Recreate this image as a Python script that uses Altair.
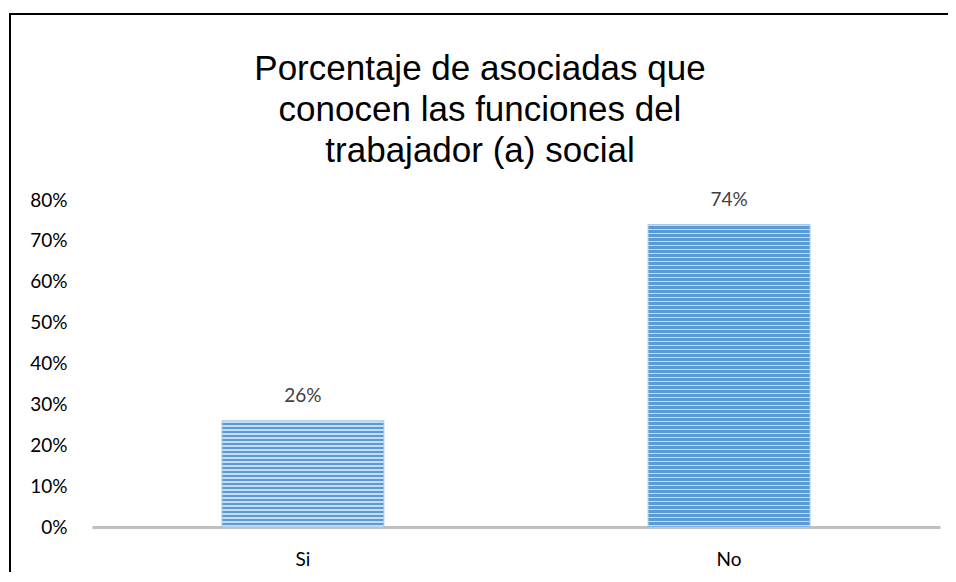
import altair as alt
import pandas as pd

categories = ["Si", "No"]
values = [0.26, 0.74]
label_texts = ["26%", "74%"]
tick_values = [0, 0.1, 0.2, 0.3, 0.4, 0.5, 0.6, 0.7, 0.8]
title_lines = ["Porcentaje de asociadas que", "conocen las funciones del", "trabajador (a) social"]

df = pd.DataFrame({"cat": categories, "val": values, "lbl": label_texts})

W, H = 848, 327
YMAX = 0.8
DARK = "#5B9BD5"
LIGHT = "#C6DCF0"


def stripes(v, period=4.0):
    h = v / YMAX * H
    n = h / period
    stops = []
    k = 0
    while k < n:
        a = k / n
        m = min((k + 0.45) / n, 1.0)
        b = min((k + 1) / n, 1.0)
        stops += [
            {"offset": a, "color": LIGHT},
            {"offset": m, "color": LIGHT},
            {"offset": m, "color": DARK},
            {"offset": b, "color": DARK},
        ]
        k += 1
    return {"gradient": "linear", "x1": 0, "x2": 0, "y1": 0, "y2": 1, "stops": stops}


x_enc = alt.X(
    "cat:N",
    sort=categories,
    title=None,
    scale=alt.Scale(paddingInner=0.62, paddingOuter=0.305),
    axis=alt.Axis(
        labelAngle=0,
        labelFont="Lato",
        labelFontSize=19,
        labelColor="#000000",
        labelPadding=23,
        ticks=False,
        tickSize=0,
        domain=True,
        domainColor="#BFBFBF",
        domainWidth=3,
        grid=False,
    ),
)
y_enc = alt.Y(
    "val:Q",
    title=None,
    scale=alt.Scale(domain=[0, YMAX], nice=False),
    axis=alt.Axis(
        values=tick_values,
        format=".0%",
        labelFont="Lato",
        labelFontSize=19,
        labelColor="#000000",
        labelPadding=25,
        ticks=False,
        tickSize=0,
        domain=False,
        grid=False,
    ),
)

base = alt.Chart(df)

bars = [
    base.transform_filter(alt.datum.cat == c)
    .mark_bar(fill=stripes(v), stroke="#A9C9EA", strokeWidth=1)
    .encode(x=x_enc, y=y_enc)
    for c, v in zip(categories, values)
]

labels = base.mark_text(
    dy=-25, font="Lato", fontSize=19, color="#404040", baseline="middle"
).encode(x=alt.X("cat:N", sort=categories), y="val:Q", text="lbl:N")

title = alt.Chart(pd.DataFrame({"t": [0]})).mark_text(
    font="Liberation Sans",
    fontSize=35,
    lineHeight=41,
    align="center",
    baseline="alphabetic",
    color="#000000",
).encode(x=alt.value(388), y=alt.value(-120), text=alt.value(title_lines))

one = pd.DataFrame({"t": [0]})
frame_top = alt.Chart(one).mark_rule(color="#000000", strokeWidth=2).encode(
    x=alt.value(-82), x2=alt.value(900), y=alt.value(-186)
)
frame_left = alt.Chart(one).mark_rule(color="#000000", strokeWidth=2).encode(
    x=alt.value(-82), y=alt.value(-187), y2=alt.value(420)
)

chart = (
    alt.layer(frame_top, frame_left, *bars, labels, title)
    .properties(
        width=W,
        height=H,
        autosize=alt.AutoSizeParams(type="none"),
        padding={"left": 84, "top": 192, "right": 8, "bottom": 45},
        background="white",
    )
    .configure_view(stroke=None)
)

chart.save("out.html", embed_options={"renderer": "svg", "actions": False})
